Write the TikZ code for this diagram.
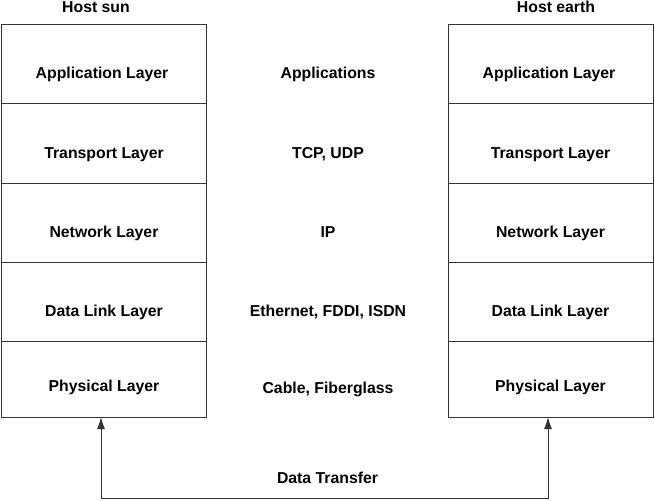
\documentclass[tikz,border=0pt]{standalone}
\usepackage{fontspec}
\setmainfont{Liberation Sans}
\usetikzlibrary{arrows.meta}
\begin{document}
\begin{tikzpicture}[x=1pt,y=-1pt,
  layerbox/.style={draw=black!80, line width=1pt, minimum width=205pt, inner sep=0pt, outer sep=0pt},
  txt/.style={font=\fontsize{15.8}{18}\selectfont\bfseries, anchor=base, inner sep=0pt},
  conn/.style={draw=black!80, line width=1pt}]
\useasboundingbox (0,0) rectangle (655,500);
% left host
\node[layerbox, minimum height=79pt] (la) at (104,64.5) {};
\node[layerbox, minimum height=79pt] (lt) at (104,143.5) {};
\node[layerbox, minimum height=79pt] (ln) at (104,222.5) {};
\node[layerbox, minimum height=79pt] (ld) at (104,301.5) {};
\node[layerbox, minimum height=76pt] (lp) at (104,379) {};
% right host
\node[layerbox, minimum height=79pt] (ra) at (550.5,64.5) {};
\node[layerbox, minimum height=79pt] (rt) at (550.5,143.5) {};
\node[layerbox, minimum height=79pt] (rn) at (550.5,222.5) {};
\node[layerbox, minimum height=79pt] (rd) at (550.5,301.5) {};
\node[layerbox, minimum height=76pt] (rp) at (550.5,379) {};
% titles
\node[txt] (hsun) at (96,12.3) {Host sun};
\node[txt] (hearth) at (556,12.3) {Host earth};
% layer labels
\node[txt] (tla) at (102,79) {Application Layer};
\node[txt] (tlt) at (104,158) {Transport Layer};
\node[txt] (tln) at (104,237) {Network Layer};
\node[txt] (tld) at (104,316) {Data Link Layer};
\node[txt] (tlp) at (104,391) {Physical Layer};
\node[txt] (tra) at (549,79) {Application Layer};
\node[txt] (trt) at (550.5,158) {Transport Layer};
\node[txt] (trn) at (550.5,237) {Network Layer};
\node[txt] (trd) at (550.5,316) {Data Link Layer};
\node[txt] (trp) at (550.5,391) {Physical Layer};
% middle protocols
\node[txt] (ma) at (328,79) {Applications};
\node[txt] (mt) at (328,158) {TCP, UDP};
\node[txt] (mn) at (328,237) {IP};
\node[txt] (md) at (328,316) {Ethernet, FDDI, ISDN};
\node[txt] (mp) at (328,393) {Cable, Fiberglass};
\node[txt] (dt) at (327.5,483) {Data Transfer};
% connector
\coordinate (lend) at (101,417);
\coordinate (rend) at (548,417);
\coordinate (lcorner) at (101,498);
\coordinate (rcorner) at (548,498);
\draw[conn, {Latex[length=12pt,width=8pt]}-{Latex[length=12pt,width=8pt]}] (lend) -- (lcorner) -- (rcorner) -- (rend);
\end{tikzpicture}
\end{document}
